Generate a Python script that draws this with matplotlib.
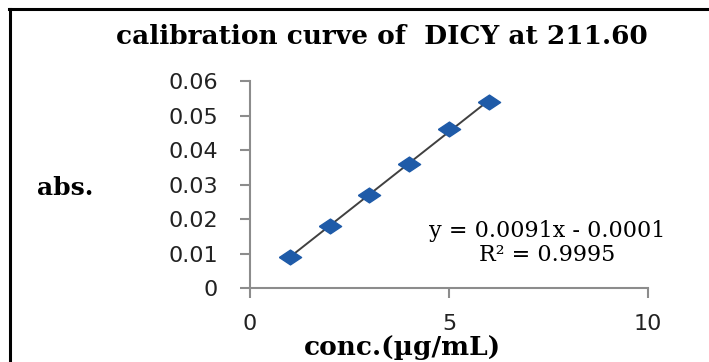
import numpy as np
import matplotlib
matplotlib.use('Agg')
import matplotlib.pyplot as plt
from matplotlib.lines import Line2D

# data
conc = [1, 2, 3, 4, 5, 6]
absorbance = [0.009, 0.018, 0.027, 0.036, 0.046, 0.054]
x_ticks = [0, 5, 10]
y_ticks = [0, 0.01, 0.02, 0.03, 0.04, 0.05, 0.06]
y_tick_labels = ['0', '0.01', '0.02', '0.03', '0.04', '0.05', '0.06']
title = 'calibration curve of  DICY at 211.60'
equation = 'y = 0.0091x - 0.0001'
r_squared = 'R\u00b2 = 0.9995'

SERIF = 'DejaVu Serif'
SANS = 'DejaVu Sans'
GRAY = '#8c8c8c'

fig = plt.figure(figsize=(7.09, 3.62), dpi=100)
ax = fig.add_axes([0.3526, 0.2044, 0.5614, 0.5718])

# trend line
slope, intercept = np.polyfit(conc, absorbance, 1)
fx = np.array([conc[0], conc[-1]])
ax.plot(fx, slope * fx + intercept, color='#404040', lw=1.4, zorder=2)

diamond = [(-1.5, 0), (0, 1), (1.5, 0), (0, -1), (-1.5, 0)]
ax.plot(conc, absorbance, linestyle='none', marker=diamond, markersize=16,
		color='#1f5ba8', zorder=3)

ax.set_xlim(0, 10)
ax.set_ylim(0, 0.06)
ax.set_xticks(x_ticks)
ax.set_yticks(y_ticks)
ax.set_yticklabels(y_tick_labels)
for s in ['top', 'right']:
	ax.spines[s].set_visible(False)
for s in ['left', 'bottom']:
	ax.spines[s].set_color(GRAY)
	ax.spines[s].set_linewidth(1.5)
ax.tick_params(direction='out', length=7, width=1.5, color=GRAY,
			   labelsize=16, labelcolor='#222222', pad=16)
for lbl in ax.get_xticklabels() + ax.get_yticklabels():
	lbl.set_family(SANS)
ax.tick_params(axis='x', pad=12)

fig.text(0.538, 0.9, title, ha='center', va='center', family=SERIF,
		 fontweight='bold', fontsize=19)
fig.text(0.092, 0.48, 'abs.', ha='center', va='center', family=SERIF,
		 fontweight='bold', fontsize=18)
fig.text(0.567, 0.039, 'conc.(\u00b5g/mL)', ha='center', va='center', family=SERIF,
		 fontweight='bold', fontsize=19)
ax.text(7.46, 0.0164, equation, ha='center', va='center', family=SERIF,
		fontsize=16)
ax.text(7.46, 0.0097, r_squared, ha='center', va='center', family=SERIF,
		fontsize=16)

# frame lines at the top and left of the picture
fig.add_artist(Line2D([0.012, 1.0], [0.976, 0.976], color='black', lw=2.2,
					  transform=fig.transFigure))
fig.add_artist(Line2D([0.014, 0.014], [0.0, 0.976], color='black', lw=2.2,
					  transform=fig.transFigure))

fig.savefig('out.png', dpi=100)
